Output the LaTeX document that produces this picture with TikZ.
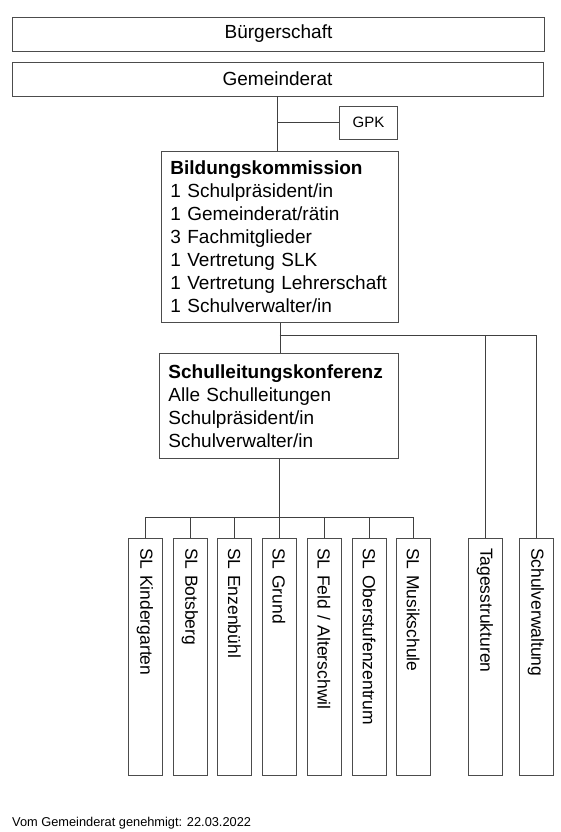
\documentclass[tikz,border=0pt]{standalone}
\usepackage{fontspec}
\setmainfont{Liberation Sans}
\begin{document}
\begin{tikzpicture}[x=1pt,y=-1pt,
  box/.style={draw=black!70, line width=0.9pt, fill=white, inner sep=0pt, font=\fontsize{19}{23}\selectfont},
  listbox/.style={box, anchor=north west, align=left, inner xsep=9pt, inner ysep=0pt},
  vbox/.style={draw=black!70, line width=0.9pt, rotate=-90, minimum width=237pt, minimum height=34pt,
     text width=217pt, align=left, inner xsep=10pt, inner ysep=0pt, font=\fontsize{17.5}{20}\selectfont},
  conn/.style={draw=black!75, line width=0.9pt}]
\useasboundingbox (0,0) rectangle (561,832);
% top boxes
\node[box, minimum width=532pt, minimum height=34pt] (buerg) at (278.5,34) {Bürgerschaft};
\node[box, minimum width=531pt, minimum height=34pt] (gem) at (277.5,79) {Gemeinderat};
\node[box, minimum width=58pt, minimum height=33pt, font=\fontsize{15}{18}\selectfont] (gpk) at (368.5,122.5) {GPK};
% Bildungskommission
\node[listbox, text width=219pt, minimum height=171pt] (bild) at (161,151) {\textbf{Bildungskommission}\\
1 Schulpräsident/in\\
1 Gemeinderat/rätin\\
3 Fachmitglieder\\
1 Vertretung SLK\\
1 Vertretung Lehrerschaft\\
1 Schulverwalter/in};
% Schulleitungskonferenz
\node[listbox, text width=221pt, minimum height=105pt] (slk) at (159,353) {\textbf{Schulleitungskonferenz}\\
Alle Schulleitungen\\
Schulpräsident/in\\
Schulverwalter/in};
% vertical boxes
\node[vbox] (sl1) at (145,656.5) {SL Kindergarten};
\node[vbox] (sl2) at (190,656.5) {SL Botsberg};
\node[vbox] (sl3) at (234.5,656.5) {SL Enzenbühl};
\node[vbox] (sl4) at (279,656.5) {SL Grund};
\node[vbox] (sl5) at (324,656.5) {SL Feld / Alterschwil};
\node[vbox] (sl6) at (369,656.5) {SL Oberstufenzentrum};
\node[vbox] (sl7) at (413,656.5) {SL Musikschule};
\node[vbox] (tag) at (485,656.5) {Tagesstrukturen};
\node[vbox] (verw) at (536,656.5) {Schulverwaltung};
% footer
\node[anchor=west, inner sep=0pt, font=\fontsize{12.8}{15}\selectfont] (foot) at (12,823) {Vom Gemeinderat genehmigt: 22.03.2022};
% connectors
\coordinate (j1) at (279.5,335);
\coordinate (bus) at (0,517);
\draw[conn] (gem.south) -- (gem.south |- bild.north);
\draw[conn] (gem.south |- gpk.west) -- (gpk.west);
\draw[conn] (bild.south) -- (bild.south |- slk.north);
\draw[conn] (j1) -| (verw.west);
\draw[conn] (j1 -| tag.west) -- (tag.west);
\draw[conn] (slk.south) -- (slk.south |- bus);
\draw[conn] (sl1.west |- bus) -- (sl7.west |- bus);
\foreach \n in {sl1,sl2,sl3,sl4,sl5,sl6,sl7}{
  \draw[conn] (\n.west |- bus) -- (\n.west);
}
\end{tikzpicture}
\end{document}
